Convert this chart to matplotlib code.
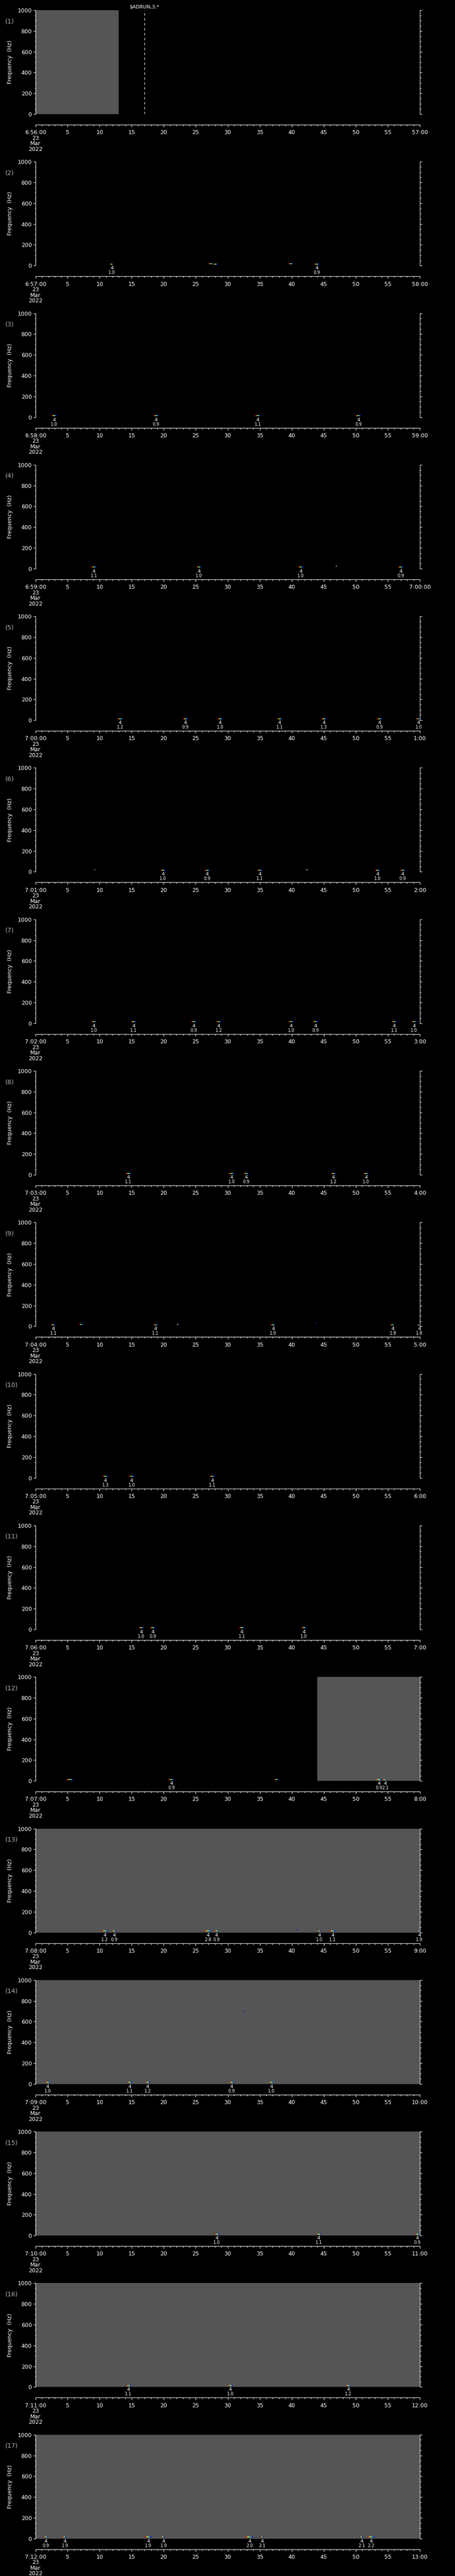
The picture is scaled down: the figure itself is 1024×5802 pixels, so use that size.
import numpy as np
import matplotlib
matplotlib.use("Agg")
import matplotlib.pyplot as plt
import matplotlib.transforms as mtransforms
from matplotlib.collections import LineCollection
from matplotlib.ticker import MultipleLocator

plt.rcParams['font.family'] = ['DejaVu Sans']

# ---------------- data ----------------
W, H = 1024, 5802
N_PANELS = 17

panel_hour = [6, 6, 6, 6, 7, 7, 7, 7, 7, 7, 7, 7, 7, 7, 7, 7, 7]
panel_min = [56, 57, 58, 59, 0, 1, 2, 3, 4, 5, 6, 7, 8, 9, 10, 11, 12]
date_text = "23\nMar\n2022"

# grey = no data (seconds within the minute)
gray_spans = [
    [(0, 13.0)], [], [], [], [], [], [], [], [], [], [],
    [(44.0, 60)], [(0, 60)], [(0, 60)], [(0, 60)], [(0, 60)], [(0, 60)],
]

# detections: (t start s, t end s, frequency Hz)
marks = [
    [],
    [(11.6, 12.1, 15), (27.0, 27.7, 20), (27.7, 28.4, 15), (39.5, 40.2, 20), (43.5, 44.3, 15), (48.5, 48.6, 20)],
    [(2.5, 3.3, 15), (18.4, 19.2, 15), (34.3, 35.1, 15), (50.0, 50.8, 15)],
    [(8.7, 9.5, 15), (25.1, 25.9, 15), (41.0, 41.8, 15), (46.8, 47.1, 25), (56.6, 57.4, 15)],
    [(12.8, 13.6, 15), (23.0, 23.8, 15), (28.4, 29.2, 15), (37.7, 38.5, 15), (44.6, 45.4, 15), (53.3, 54.1, 15), (59.4, 60, 15)],
    [(9.1, 9.4, 20), (19.5, 20.3, 15), (26.4, 27.2, 15), (34.6, 35.4, 15), (42.2, 42.6, 20), (53.0, 53.8, 15), (56.9, 57.7, 15)],
    [(8.7, 9.5, 15), (14.9, 15.7, 15), (24.3, 25.1, 15), (28.2, 29.0, 15), (39.5, 40.3, 15), (43.3, 44.1, 15), (55.6, 56.4, 15), (58.7, 59.5, 15)],
    [(14.1, 14.9, 15), (30.2, 31.0, 15), (32.5, 33.3, 15), (46.1, 46.9, 15), (51.2, 52.0, 15)],
    [(2.4, 3.1, 15), (6.8, 7.4, 20), (18.4, 19.1, 15), (22.0, 22.4, 20), (36.7, 37.4, 15), (43.7, 43.9, 30), (52.2, 52.4, 30), (55.4, 56.0, 15), (59.6, 60.0, 15)],
    [(10.5, 11.3, 15), (14.6, 15.4, 15), (27.2, 28.0, 15)],
    [(16.1, 16.9, 15), (17.9, 18.7, 15), (31.8, 32.6, 15), (41.5, 42.3, 15)],
    [(4.8, 5.9, 15), (17.4, 17.5, 25), (20.7, 21.6, 15), (37.3, 38.0, 15), (53.1, 54.0, 15), (54.2, 54.8, 15)],
    [(10.3, 11.3, 15), (11.9, 12.6, 15), (26.3, 27.5, 15), (27.9, 28.6, 15), (40.7, 40.9, 25), (44.0, 44.5, 15), (45.9, 46.8, 15), (59.5, 60.0, 15)],
    [(1.5, 2.3, 15), (14.3, 15.1, 15), (17.1, 17.9, 15), (30.2, 31.0, 15), (32.3, 32.5, 700), (36.4, 37.2, 15)],
    [(27.9, 28.7, 15), (43.8, 44.6, 15), (59.2, 60.0, 15)],
    [(14.1, 14.9, 15), (30.0, 30.8, 15), (48.4, 49.2, 15)],
    [(1.25, 1.9, 15), (4.2, 4.8, 15), (17.0, 18.1, 15), (19.6, 20.1, 15), (32.7, 33.9, 15), (35.1, 35.6, 15), (50.3, 50.4, 30), (50.6, 51.1, 15), (51.8, 52.9, 15)],
]

# picks: time (s) and value printed under the "4"
pick_label = "4"
pick_times = [
    [], [11.9, 43.9], [2.9, 18.8, 34.7, 50.4], [9.1, 25.5, 41.4, 57.0],
    [13.2, 23.4, 28.8, 38.1, 45.0, 53.7, 59.8], [19.9, 26.8, 35.0, 53.4, 57.3],
    [9.1, 15.3, 24.7, 28.6, 39.9, 43.7, 56.0, 59.1], [14.5, 30.6, 32.9, 46.5, 51.6],
    [2.8, 18.7, 37.1, 55.8, 59.9], [10.9, 15.0, 27.6], [16.5, 18.3, 32.2, 41.9],
    [21.2, 53.6, 54.6], [10.8, 12.3, 26.9, 28.2, 44.3, 46.4, 59.9],
    [1.9, 14.7, 17.5, 30.6, 36.8], [28.3, 44.2, 59.6], [14.5, 30.4, 48.8],
    [1.6, 4.6, 17.6, 20.0, 33.4, 35.4, 50.9, 52.4],
]
pick_mags = [
    [], [1.0, 0.9], [1.0, 0.9, 1.1, 0.9], [1.1, 1.0, 1.0, 0.9],
    [1.2, 0.9, 1.0, 1.1, 1.3, 0.9, 1.0], [1.0, 0.9, 1.1, 1.0, 0.9],
    [1.0, 1.1, 0.9, 1.2, 1.0, 0.9, 1.1, 1.0], [1.1, 1.0, 0.9, 1.2, 1.0],
    [1.1, 1.1, 1.0, 1.8, 1.8], [1.3, 1.0, 1.1], [1.0, 0.9, 1.1, 1.0],
    [0.9, 0.9, 2.1], [1.2, 0.9, 2.8, 0.9, 1.0, 1.1, 1.9],
    [1.0, 1.1, 1.2, 0.9, 1.0], [1.0, 1.1, 0.9], [1.1, 1.0, 1.2],
    [0.9, 1.9, 1.9, 1.9, 2.0, 2.1, 2.1, 2.2],
]

# event marker on panel 1
event_panel = 0
event_time = 17.0
event_text = "$ADRUN,3,*"

# ---------------- layout (pixels inside one panel) ----------------
PH = H / N_PANELS
AX_L, AX_R = 80, 945
AX_T, AX_B = 23, 257
AX_H = AX_B - AX_T
FG = 'white'
GREY = '#555555'


def end_label(h, m):
    m2 = m + 1
    if m2 == 60:
        return f"{h + 1}:00:00"
    return f"{m2}:00"


fig = plt.figure(figsize=(W / 100, H / 100), dpi=100, facecolor='black')

for i in range(N_PANELS):
    T = i * PH
    ax = fig.add_axes([AX_L / W, 1 - (T + AX_B) / H, (AX_R - AX_L) / W, AX_H / H])
    ax.set_facecolor('black')
    ax.set_xlim(0, 60)
    ax.set_ylim(0, 1000)

    for a, b in gray_spans[i]:
        ax.axvspan(a, b, color=GREY, lw=0, zorder=0)

    # coloured detection streaks
    segs, cols = [], []
    for t0, t1, f in marks[i]:
        n = max(2, int(round((t1 - t0) / 0.12)))
        edges = np.linspace(t0, t1, n + 1)
        cc = plt.cm.jet(np.linspace(0.95, 0.1, n))
        for k in range(n):
            segs.append([(edges[k], f), (edges[k + 1], f)])
            cols.append(cc[k])
    if segs:
        ax.add_collection(LineCollection(segs, colors=cols, linewidths=1.3,
                                         capstyle='butt', zorder=3))

    # pick annotations under the panel
    trans = mtransforms.blended_transform_factory(ax.transData, ax.transAxes)
    for t, mg in zip(pick_times[i], pick_mags[i]):
        ax.text(t, -6 / AX_H, pick_label, transform=trans, ha='center', va='center',
                color=FG, fontsize=8, clip_on=False)
        ax.text(t, -16 / AX_H, f"{mg:.1f}", transform=trans, ha='center', va='center',
                color=FG, fontsize=7, clip_on=False)

    if i == event_panel:
        ax.axvline(event_time, color=FG, lw=0.8, ls=(0, (5, 5)), zorder=4)
        ax.text(event_time, 1 + 7 / AX_H, event_text, transform=trans, ha='center',
                va='center', color=FG, fontsize=8, clip_on=False)

    # spines
    for s in ['left', 'right', 'bottom']:
        ax.spines[s].set_color(FG)
        ax.spines[s].set_linewidth(0.8)
    ax.spines['top'].set_visible(False)
    ax.spines['bottom'].set_position(('outward', 24 * 0.72))

    # ticks
    ax.set_xticks(np.arange(0, 61, 5))
    ax.xaxis.set_minor_locator(MultipleLocator(1))
    ax.yaxis.set_major_locator(MultipleLocator(200))
    ax.yaxis.set_minor_locator(MultipleLocator(50))
    h, m = panel_hour[i], panel_min[i]
    xlabels = [f"{h}:{m:02d}:00\n{date_text}"] + [str(s) for s in range(5, 60, 5)] + [end_label(h, m)]
    ax.set_xticklabels(xlabels)
    for lbl in ax.get_xticklabels():
        lbl.set_linespacing(0.95)
    ax.tick_params(axis='both', which='both', direction='out', colors=FG, width=0.8)
    ax.tick_params(axis='both', which='major', length=3.6)
    ax.tick_params(axis='both', which='minor', length=1.8)
    ax.tick_params(axis='x', which='both', top=False, labelsize=9, pad=4.5)
    ax.tick_params(axis='y', which='both', left=True, right=True, labelright=False,
                   labelsize=9, pad=2.5)

    fig.text(23 / W, 1 - (T + 140) / H, "Frequency  (Hz)", rotation=90, ha='center',
             va='center', color=FG, fontsize=9)
    fig.text(12 / W, 1 - (T + 48) / H, f"({i + 1})", ha='left', va='center',
             color='#b0b0b0', fontsize=10)

fig.savefig("out.png", dpi=100, facecolor='black')
